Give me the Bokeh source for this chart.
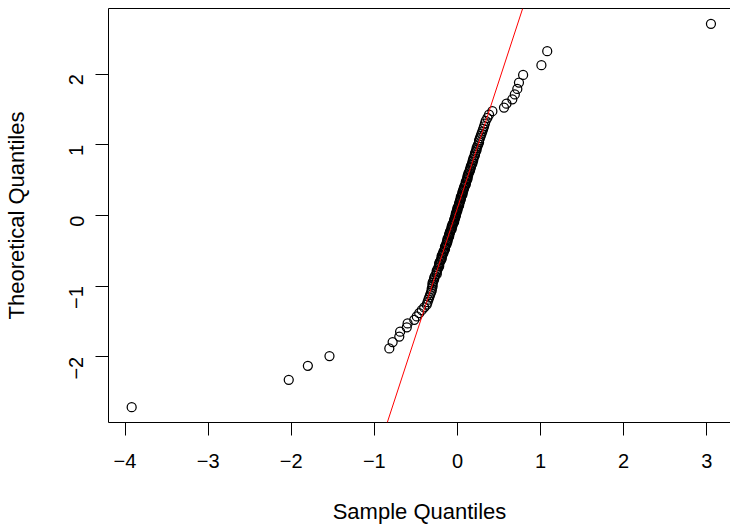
import math
import numpy as np
from bokeh.plotting import figure
from bokeh.models import Range1d, FixedTicker, LinearAxis, Slope, ColumnDataSource
from bokeh.embed import file_html
from bokeh.resources import INLINE

# Theoretical normal quantiles, lower half (ppoints of n = 150)
theo_lower = [-2.713, -2.326, -2.128, -1.989, -1.881, -1.791, -1.713, -1.645, -1.583, -1.527,
              -1.476, -1.428, -1.383, -1.341, -1.301, -1.263, -1.227, -1.192, -1.159, -1.126,
              -1.095, -1.065, -1.036, -1.008, -0.981, -0.954, -0.928, -0.903, -0.878, -0.854,
              -0.830, -0.806, -0.783, -0.761, -0.739, -0.717, -0.695, -0.674, -0.653, -0.633,
              -0.613, -0.593, -0.573, -0.553, -0.534, -0.515, -0.496, -0.477, -0.459, -0.440,
              -0.422, -0.404, -0.385, -0.367, -0.350, -0.332, -0.314, -0.297, -0.279, -0.262,
              -0.245, -0.228, -0.210, -0.193, -0.176, -0.159, -0.143, -0.126, -0.109, -0.092,
              -0.075, -0.059, -0.042, -0.025, -0.008]
theo_upper = [-v for v in reversed(theo_lower)]
theoretical = theo_lower + theo_upper

# Sorted sample values
sample = [-3.92, -2.03, -1.80, -1.54, -0.82, -0.78, -0.70, -0.69, -0.61, -0.60,
          -0.52, -0.49, -0.46, -0.43, -0.40, -0.37, -0.36, -0.35, -0.34, -0.33,
          -0.32, -0.31, -0.31, -0.30, -0.30, -0.30, -0.29, -0.28, -0.28, -0.27,
          -0.25, -0.25, -0.25, -0.24, -0.23, -0.22, -0.22, -0.22, -0.21, -0.20,
          -0.19, -0.19, -0.19, -0.18, -0.17, -0.17, -0.16, -0.15, -0.15, -0.15,
          -0.14, -0.13, -0.13, -0.12, -0.12, -0.12, -0.11, -0.10, -0.10, -0.10,
          -0.09, -0.09, -0.08, -0.07, -0.07, -0.07, -0.06, -0.06, -0.05, -0.04,
          -0.04, -0.04, -0.03, -0.03, -0.02, -0.02, -0.02, -0.01, -0.01, 0.00,
          0.00, 0.00, 0.01, 0.02, 0.02, 0.02, 0.03, 0.03, 0.04, 0.04,
          0.04, 0.05, 0.06, 0.06, 0.06, 0.07, 0.07, 0.08, 0.08, 0.09,
          0.10, 0.10, 0.10, 0.11, 0.12, 0.12, 0.12, 0.13, 0.13, 0.14,
          0.15, 0.15, 0.16, 0.16, 0.17, 0.18, 0.18, 0.19, 0.19, 0.20,
          0.21, 0.21, 0.22, 0.23, 0.23, 0.24, 0.25, 0.26, 0.26, 0.27,
          0.28, 0.29, 0.30, 0.31, 0.32, 0.33, 0.34, 0.36, 0.38, 0.42,
          0.56, 0.59, 0.66, 0.69, 0.72, 0.74, 0.79, 1.01, 1.08, 3.05]

x_ticks = [-4, -3, -2, -1, 0, 1, 2, 3]
y_ticks = [-2, -1, 0, 1, 2]
q_probs_norm = [-0.6745, 0.6745]  # qnorm(0.25), qnorm(0.75)

FONT = "Liberation Sans"

xs = np.array(sample)
ys = np.array(theoretical)
xspan = xs.max() - xs.min()
yspan = ys.max() - ys.min()
x_start = xs.min() - 0.04 * xspan
y_start = ys.min() - 0.04 * yspan
y_end = ys.max() + 0.04 * yspan

FRAME_W, FRAME_H = 622, 414
px_per_x = 83.11
x_end = x_start + FRAME_W / px_per_x

p = figure(frame_width=FRAME_W, frame_height=FRAME_H,
           x_range=Range1d(x_start, x_end), y_range=Range1d(y_start, y_end),
           output_backend="svg", toolbar_location=None,
           min_border_left=108, min_border_right=0, min_border_top=8, min_border_bottom=104,
           background_fill_color="white", border_fill_color="white")
p.outline_line_color = None
p.grid.visible = False

src = ColumnDataSource(dict(x=sample, y=theoretical))
p.scatter("x", "y", source=src, size=9, fill_color=None, line_color="black", line_width=1.25)

# qqline through quartiles (datax = TRUE)
q1, q3 = np.percentile(xs, [25, 75])
slope_x = (q3 - q1) / (q_probs_norm[1] - q_probs_norm[0])
int_x = q1 - slope_x * q_probs_norm[0]
p.add_layout(Slope(gradient=1.0 / slope_x, y_intercept=-int_x / slope_x,
                   line_color="red", line_width=1))

def minus(v):
    return ("\u2212" + str(abs(v))) if v < 0 else str(v)

for ax, ticks in ((p.xaxis[0], x_ticks), (p.yaxis[0], y_ticks)):
    ax.ticker = FixedTicker(ticks=ticks)
    ax.minor_tick_line_color = None
    ax.major_tick_in = 0
    ax.major_tick_out = 13
    ax.major_tick_line_color = "black"
    ax.axis_line_color = "black"
    ax.major_label_overrides = {t: minus(t) for t in ticks}
    ax.major_label_text_font = FONT
    ax.major_label_text_font_size = "20px"
    ax.major_label_text_color = "black"
    ax.axis_label_text_font = FONT
    ax.axis_label_text_font_size = "22px"
    ax.axis_label_text_font_style = "normal"
    ax.axis_label_text_color = "black"

p.xaxis[0].axis_label = "Sample Quantiles"
p.xaxis[0].major_label_standoff = 18
p.xaxis[0].axis_label_standoff = 28
p.yaxis[0].axis_label = "Theoretical Quantiles"
p.yaxis[0].major_label_orientation = math.pi / 2
p.yaxis[0].major_label_standoff = 19
p.yaxis[0].axis_label_standoff = 31

top = LinearAxis(ticker=FixedTicker(ticks=[]), major_tick_out=0, major_tick_in=0,
                 minor_tick_line_color=None, major_label_standoff=0,
                 major_label_text_font_size="0px", axis_line_color="black")
p.add_layout(top, "above")

open("out.html", "w").write(file_html(p, INLINE))
